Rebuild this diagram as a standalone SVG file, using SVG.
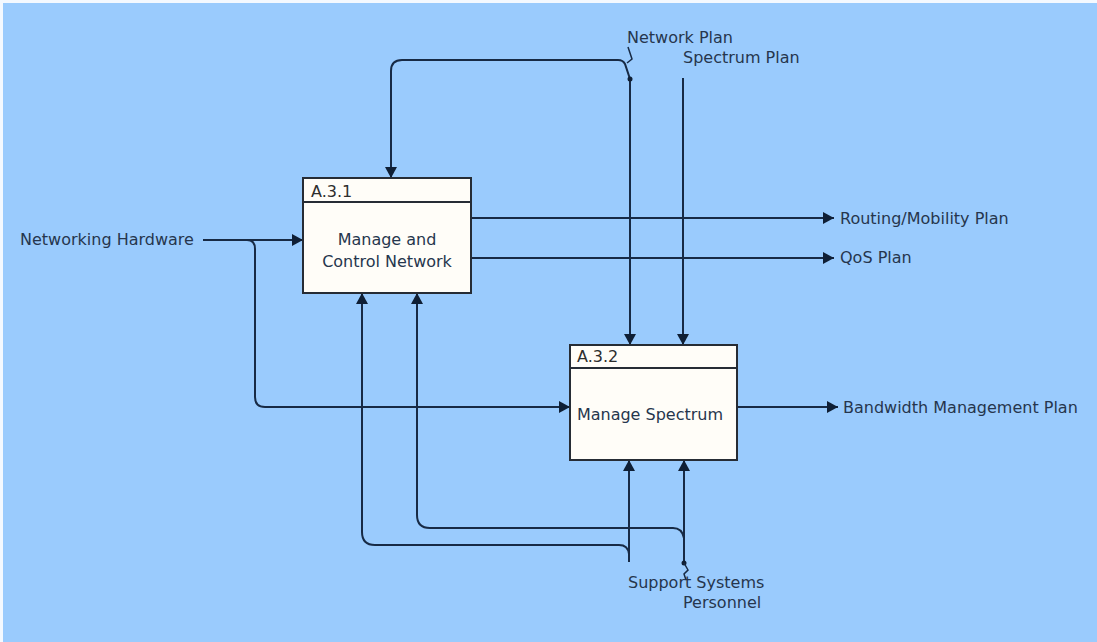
<svg xmlns="http://www.w3.org/2000/svg" width="1097" height="642" viewBox="0 0 1097 642">
  <style>
    .lbl { font-family: "DejaVu Sans", "Liberation Sans", sans-serif; font-size: 16px; fill: #26364d; }
    .ttl { font-family: "DejaVu Sans", "Liberation Sans", sans-serif; font-size: 16px; fill: #2e2e2e; }
    .box { fill: #fffdf8; stroke: #262c35; stroke-width: 2; }
    .hdr { stroke: #262c35; stroke-width: 2; }
    .ln { fill: none; stroke: #172a45; stroke-width: 2; }
    .sq { fill: none; stroke: #172a45; stroke-width: 1.5; }
  </style>
  <defs>
    <marker id="ah" markerUnits="userSpaceOnUse" markerWidth="12" markerHeight="12" refX="11" refY="6" orient="auto">
      <path d="M0,0 L11,6 L0,12 Z" fill="#0f1f35"/>
    </marker>
  </defs>
  <rect x="0" y="0" width="1097" height="642" fill="#f4f9ff"/>
  <rect x="3" y="3" width="1094" height="639" fill="#9acbfd"/>

  <g id="connectors">
    <!-- Networking Hardware -->
    <path class="ln" d="M203,240 H303" marker-end="url(#ah)"/>
    <path class="ln" d="M247,240 Q255,240 255,249 V397 Q255,407 265,407 H570" marker-end="url(#ah)"/>
    <!-- outputs of A.3.1 -->
    <path class="ln" d="M471,218 H834" marker-end="url(#ah)"/>
    <path class="ln" d="M471,258 H834" marker-end="url(#ah)"/>
    <!-- output of A.3.2 -->
    <path class="ln" d="M737,407 H838" marker-end="url(#ah)"/>
    <!-- Network Plan -->
    <path class="ln" d="M630,79 V345" marker-end="url(#ah)"/>
    <path class="ln" d="M630,79 L625,64 Q623,60 618,60 H402 Q391,60 391,71 V178" marker-end="url(#ah)"/>
    <circle cx="630" cy="79" r="2.5" fill="#0f1f35"/>
    <path class="sq" d="M628,47 L632,59 L627,63"/>
    <!-- Spectrum Plan -->
    <path class="ln" d="M683,78 V345" marker-end="url(#ah)"/>
    <!-- Support Systems -->
    <path class="ln" d="M629,562 V460" marker-end="url(#ah)"/>
    <path class="ln" d="M629,554 Q628,545 619,545 H375 Q362,545 362,532 V293" marker-end="url(#ah)"/>
    <!-- Personnel -->
    <path class="ln" d="M684,563 V460" marker-end="url(#ah)"/>
    <path class="ln" d="M684,538 Q682,528 673,528 H430 Q417,528 417,515 V293" marker-end="url(#ah)"/>
    <circle cx="684" cy="563" r="2.5" fill="#0f1f35"/>
    <path class="sq" d="M684,563 L688,570 L684,574 L686,580"/>
  </g>

  <g id="node-a31">
    <rect class="box" x="303" y="178" width="168" height="115"/>
    <line class="hdr" x1="303" y1="202" x2="471" y2="202"/>
    <text class="ttl" x="311" y="197">A.3.1</text>
    <text class="lbl" x="387" y="245" text-anchor="middle">Manage and</text>
    <text class="lbl" x="387" y="267" text-anchor="middle">Control Network</text>
  </g>

  <g id="node-a32">
    <rect class="box" x="570" y="345" width="167" height="115"/>
    <line class="hdr" x1="570" y1="368" x2="737" y2="368"/>
    <text class="ttl" x="577" y="362">A.3.2</text>
    <text class="lbl" x="650" y="420" text-anchor="middle">Manage Spectrum</text>
  </g>

  <g id="labels">
    <text class="lbl" x="20" y="245">Networking Hardware</text>
    <text class="lbl" x="627" y="43">Network Plan</text>
    <text class="lbl" x="683" y="63">Spectrum Plan</text>
    <text class="lbl" x="840" y="224">Routing/Mobility Plan</text>
    <text class="lbl" x="840" y="263">QoS Plan</text>
    <text class="lbl" x="843" y="413">Bandwidth Management Plan</text>
    <text class="lbl" x="628" y="588">Support Systems</text>
    <text class="lbl" x="683" y="608">Personnel</text>
  </g>
</svg>
